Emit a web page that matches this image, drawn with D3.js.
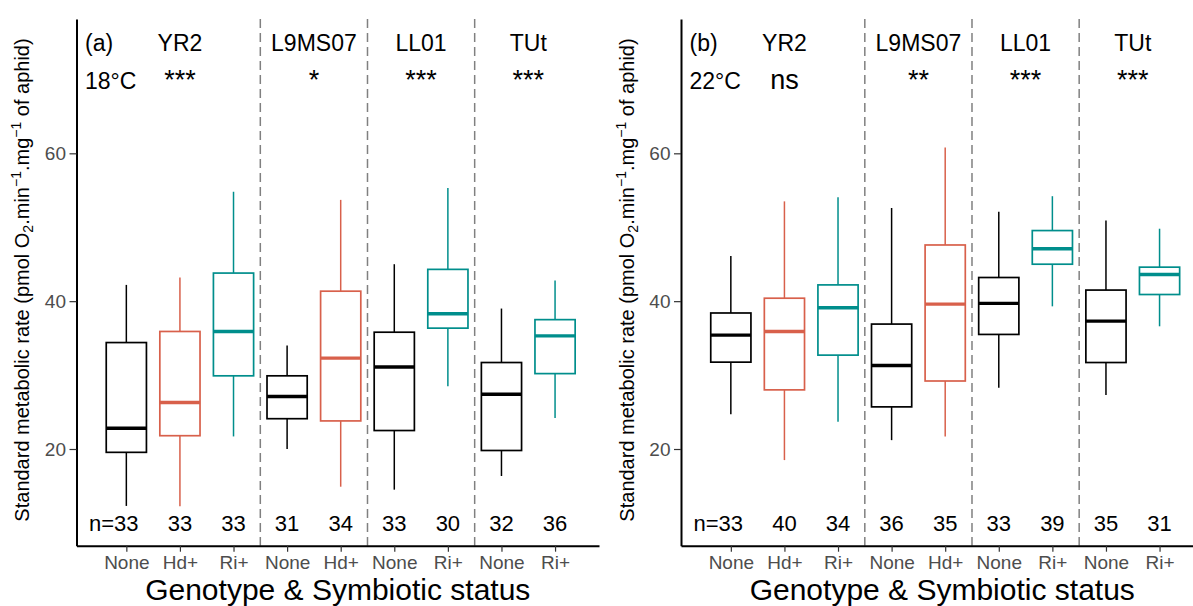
<!DOCTYPE html>
<html>
<head>
<meta charset="utf-8">
<script src="https://cdn.jsdelivr.net/npm/d3@7"></script>
<style>
  body { margin: 0; background: #fff; }
  text { font-family: "Liberation Sans", Arial, sans-serif; }
</style>
</head>
<body>
<div id="chart-area"></div>
<script>
const W = 1193, H = 606

// Categories
const statuses = ["None", "Hd+", "Ri+", "None", "Hd+", "None", "Ri+", "None", "Ri+"]
const genotypes = ["YR2", "L9MS07", "LL01", "TUt"]
const groupSizes = [3, 2, 2, 2]
const yTicks = [20, 40, 60]

// (a) 18°C  - box stats
const lowA  = [12.3, 12.25, 21.7, 20.0, 14.9, 14.5, 28.5, 16.35, 24.2]
const q1A   = [19.55, 21.8, 29.9, 24.1, 23.8, 22.5, 36.35, 19.8, 30.2]
const medA  = [22.8, 26.3, 35.9, 27.1, 32.3, 31.1, 38.3, 27.4, 35.3]
const q3A   = [34.4, 35.9, 43.8, 29.9, 41.35, 35.8, 44.3, 31.7, 37.5]
const highA = [42.2, 43.2, 54.8, 34.0, 53.7, 45.0, 55.3, 39.0, 42.8]
const nA    = [33, 33, 33, 31, 34, 33, 30, 32, 36]
const sigA  = ["***", "*", "***", "***"]

// (b) 22°C
const lowB  = [24.7, 18.5, 23.7, 21.2, 21.7, 28.3, 39.3, 27.3, 36.6]
const q1B   = [31.75, 28.0, 32.7, 25.7, 29.2, 35.5, 45.0, 31.7, 40.9]
const medB  = [35.4, 35.9, 39.1, 31.3, 39.6, 39.7, 47.1, 37.3, 43.6]
const q3B   = [38.4, 40.4, 42.2, 36.9, 47.6, 43.2, 49.55, 41.5, 44.6]
const highB = [46.1, 53.5, 54.05, 52.6, 60.8, 52.1, 54.2, 50.9, 49.8]
const nB    = [33, 40, 34, 36, 35, 33, 39, 35, 31]
const sigB  = ["ns", "**", "***", "***"]

const color = { "None": "#000000", "Hd+": "#D8604B", "Ri+": "#008E8C" }

const svg = d3.select("#chart-area").append("svg")
    .attr("width", W)
    .attr("height", H)

const TOP = 19, BOTTOM = 545.7

const y = d3.scaleLinear()
    .domain([6.92, 78.17])
    .range([BOTTOM, TOP])

function drawPanel(ox, tag, temp, low, q1, med, q3, high, ns, sigs) {
    const g = svg.append("g").attr("transform", `translate(${ox}, 0)`)

    const x = d3.scaleLinear()
        .domain([-0.93, 8.82])
        .range([76.5, 599])
    const unit = x(1) - x(0)
    const bw = unit * 0.75

    const rows = statuses.map((s, i) => ({
        i, s, low: low[i], q1: q1[i], med: med[i], q3: q3[i], high: high[i], n: ns[i]
    }))

    // group boundaries
    const starts = []
    let acc = 0
    groupSizes.forEach(k => { starts.push(acc); acc += k })

    // dashed separators
    g.selectAll(".sep")
        .data(starts.slice(1))
        .enter().append("line")
        .attr("class", "sep")
        .attr("x1", d => x(d - 0.5))
        .attr("x2", d => x(d - 0.5))
        .attr("y1", TOP)
        .attr("y2", BOTTOM)
        .attr("stroke", "#808080")
        .attr("stroke-width", 1.5)
        .attr("stroke-dasharray", "9,5")

    // whiskers
    g.selectAll(".whisk-hi")
        .data(rows)
        .enter().append("line")
        .attr("x1", d => x(d.i)).attr("x2", d => x(d.i))
        .attr("y1", d => y(d.q3)).attr("y2", d => y(d.high))
        .attr("stroke", d => color[d.s])
        .attr("stroke-width", 1.5)
    g.selectAll(".whisk-lo")
        .data(rows)
        .enter().append("line")
        .attr("x1", d => x(d.i)).attr("x2", d => x(d.i))
        .attr("y1", d => y(d.q1)).attr("y2", d => y(d.low))
        .attr("stroke", d => color[d.s])
        .attr("stroke-width", 1.5)

    // boxes
    g.selectAll(".box")
        .data(rows)
        .enter().append("rect")
        .attr("class", "box")
        .attr("x", d => x(d.i) - bw / 2)
        .attr("width", bw)
        .attr("y", d => y(d.q3))
        .attr("height", d => y(d.q1) - y(d.q3))
        .attr("fill", "white")
        .attr("stroke", d => color[d.s])
        .attr("stroke-width", 1.7)

    // medians
    g.selectAll(".median")
        .data(rows)
        .enter().append("line")
        .attr("x1", d => x(d.i) - bw / 2)
        .attr("x2", d => x(d.i) + bw / 2)
        .attr("y1", d => y(d.med)).attr("y2", d => y(d.med))
        .attr("stroke", d => color[d.s])
        .attr("stroke-width", 3.4)

    // sample sizes
    g.selectAll(".nlab")
        .data(rows)
        .enter().append("text")
        .attr("class", "nlab")
        .attr("x", d => x(d.i))
        .attr("y", 531)
        .attr("text-anchor", "middle")
        .attr("font-size", "22px")
        .attr("fill", "#000")
        .text(d => d.n)
    const firstW = g.select(".nlab").node().getComputedTextLength()
    g.append("text")
        .attr("x", x(0) - firstW / 2)
        .attr("y", 531)
        .attr("text-anchor", "end")
        .attr("font-size", "22px")
        .text("n=")

    // genotype + significance labels
    genotypes.forEach((gen, k) => {
        const cx = x(starts[k] + (groupSizes[k] - 1) / 2)
        g.append("text")
            .attr("x", cx).attr("y", 50.5)
            .attr("text-anchor", "middle")
            .attr("font-size", "23px")
            .text(gen)
        g.append("text")
            .attr("x", cx).attr("y", 88.5)
            .attr("text-anchor", "middle")
            .attr("font-size", "27px")
            .text(sigs[k])
    })

    g.append("text")
        .attr("x", 85).attr("y", 50.5)
        .attr("font-size", "23px")
        .text(tag)
    g.append("text")
        .attr("x", 85).attr("y", 88.5)
        .attr("font-size", "23px")
        .text(temp)

    // X Axis
    const xAxisCall = d3.axisBottom(x)
        .tickValues(d3.range(statuses.length))
        .tickFormat(i => statuses[i])
        .tickSize(6)
        .tickSizeOuter(0)
        .tickPadding(3.5)
    const xg = g.append("g")
        .attr("transform", `translate(0, ${BOTTOM})`)
        .call(xAxisCall)
    xg.select(".domain").attr("stroke", "#000").attr("stroke-width", 2)
    xg.selectAll(".tick line").attr("stroke", "#333").attr("stroke-width", 1.2)
    xg.selectAll(".tick text")
        .attr("fill", "#4D4D4D")
        .attr("font-size", "19px")
        .attr("font-family", "Liberation Sans, Arial, sans-serif")

    // Y Axis
    const yAxisCall = d3.axisLeft(y)
        .tickValues(yTicks)
        .tickSize(7)
        .tickSizeOuter(0)
        .tickPadding(3.5)
    const yg = g.append("g")
        .attr("transform", `translate(76.5, 0)`)
        .call(yAxisCall)
    yg.select(".domain").attr("stroke", "#000").attr("stroke-width", 2)
    yg.selectAll(".tick line").attr("stroke", "#333").attr("stroke-width", 1.2)
    yg.selectAll(".tick text")
        .attr("fill", "#4D4D4D")
        .attr("font-size", "19px")
        .attr("font-family", "Liberation Sans, Arial, sans-serif")

    // Labels
    g.append("text")
        .attr("x", (x.range()[0] + x.range()[1]) / 2)
        .attr("y", 600)
        .attr("text-anchor", "middle")
        .attr("font-size", "30px")
        .text("Genotype & Symbiotic status")

    const yl = g.append("text")
        .attr("transform", `translate(29, 280) rotate(-90)`)
        .attr("text-anchor", "middle")
        .attr("font-size", "20px")
    yl.append("tspan").text("Standard metabolic rate (pmol O")
    yl.append("tspan").attr("dy", 4).attr("font-size", "14px").text("2")
    yl.append("tspan").attr("dy", -4).text(".min")
    yl.append("tspan").attr("dy", -8).attr("font-size", "14px").text("\u22121")
    yl.append("tspan").attr("dy", 8).text(".mg")
    yl.append("tspan").attr("dy", -8).attr("font-size", "14px").text("\u22121")
    yl.append("tspan").attr("dy", 8).text(" of aphid)")
}

drawPanel(0, "(a)", "18°C", lowA, q1A, medA, q3A, highA, nA, sigA)
drawPanel(604.5, "(b)", "22°C", lowB, q1B, medB, q3B, highB, nB, sigB)
</script>
</body>
</html>
